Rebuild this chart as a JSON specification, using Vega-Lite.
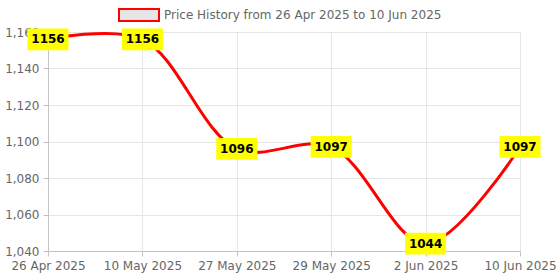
{
  "$schema": "https://vega.github.io/schema/vega-lite/v6.json",
  "width": 472,
  "height": 219,
  "autosize": {"type": "none"},
  "padding": {"left": 48, "top": 32, "right": 40, "bottom": 29},
  "background": "white",
  "config": {
    "view": {"stroke": null},
    "font": "DejaVu Sans",
    "axis": {
      "labelFont": "DejaVu Sans",
      "labelFontSize": 12,
      "labelColor": "#666666",
      "gridColor": "#e6e6e6",
      "gridWidth": 1,
      "domainColor": "#c4c4c4",
      "tickColor": "#c4c4c4",
      "tickSize": 5,
      "labelPadding": 4,
      "title": null
    },
    "legend": {
      "labelFont": "DejaVu Sans",
      "labelFontSize": 12,
      "labelColor": "#666666",
      "padding": 0
    }
  },
  "data": {
    "values": [
      {"date": "26 Apr 2025", "price": 1156, "series": "Price History from 26 Apr 2025 to 10 Jun 2025"},
      {"date": "10 May 2025", "price": 1156, "series": "Price History from 26 Apr 2025 to 10 Jun 2025"},
      {"date": "27 May 2025", "price": 1096, "series": "Price History from 26 Apr 2025 to 10 Jun 2025"},
      {"date": "29 May 2025", "price": 1097, "series": "Price History from 26 Apr 2025 to 10 Jun 2025"},
      {"date": "2 Jun 2025", "price": 1044, "series": "Price History from 26 Apr 2025 to 10 Jun 2025"},
      {"date": "10 Jun 2025", "price": 1097, "series": "Price History from 26 Apr 2025 to 10 Jun 2025"}
    ]
  },
  "encoding": {
    "x": {
      "field": "date",
      "type": "ordinal",
      "sort": null,
      "scale": {"type": "point", "padding": 0},
      "axis": {"labelAngle": 0, "grid": true}
    },
    "y": {
      "field": "price",
      "type": "quantitative",
      "scale": {"domain": [1040, 1160], "nice": false, "zero": false},
      "axis": {"values": [1040, 1060, 1080, 1100, 1120, 1140, 1160], "format": ",d", "grid": true}
    }
  },
  "layer": [
    {
      "mark": {"type": "line", "interpolate": "catmull-rom", "strokeWidth": 3},
      "encoding": {
        "color": {
          "field": "series",
          "type": "nominal",
          "scale": {"range": ["#ff0000"]},
          "legend": {
            "orient": "none",
            "legendX": 80,
            "legendY": -28,
            "direction": "horizontal",
            "title": null,
            "symbolType": "M-2,-0.6H2V0.6H-2Z",
            "symbolSize": 400,
            "symbolStrokeWidth": 2,
            "labelOffset": 14,
            "labelLimit": 0,
            "encode": {
              "symbols": {
                "update": {
                  "fill": {"value": "#e6e6e6"},
                  "stroke": {"value": "#ff0000"},
                  "strokeWidth": {"value": 2},
                  "opacity": {"value": 1}
                }
              }
            }
          }
        }
      }
    },
    {
      "mark": {
        "type": "point",
        "shape": "M-1,-0.53H1V0.53H-1Z",
        "size": 1681,
        "filled": true,
        "fill": "#ffff00",
        "opacity": 1,
        "strokeWidth": 0
      }
    },
    {
      "mark": {
        "type": "text",
        "font": "DejaVu Sans",
        "fontWeight": "bold",
        "fontSize": 12,
        "color": "#000000"
      },
      "encoding": {
        "text": {"field": "price", "type": "quantitative", "format": "d"}
      }
    }
  ]
}
